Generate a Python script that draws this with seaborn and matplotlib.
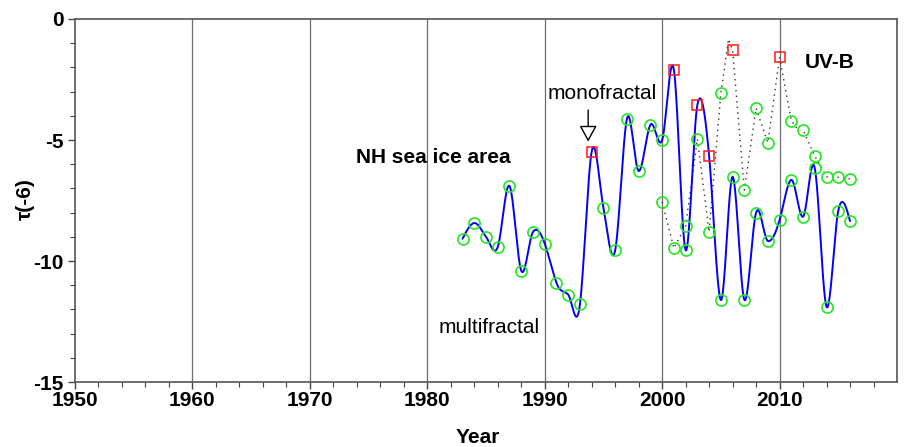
import numpy as np
import pandas as pd
import matplotlib
matplotlib.use("Agg")
import matplotlib.pyplot as plt
import seaborn as sns

# NH sea ice area: annual tau(-6) values
ice_years = list(range(1983, 2017))
ice_tau = [-9.08, -8.43, -9.00, -9.42, -6.90, -10.40, -8.80, -9.28, -10.90, -11.39,
           -11.79, -5.48, -7.80, -9.56, -4.13, -6.28, -4.37, -5.00, -2.10, -9.55,
           -3.55, -5.66, -11.61, -6.52, -11.60, -8.00, -9.17, -8.31, -6.65, -8.17,
           -6.17, -11.89, -7.92, -8.35]
ice_mono_years = [1994, 2001, 2003, 2004]

# UV-B: annual tau(-6) values
uvb_years = list(range(2000, 2017))
uvb_tau = [-7.56, -9.47, -8.55, -4.96, -8.80, -3.07, -1.28, -7.07, -3.69, -5.11,
           -1.58, -4.20, -4.59, -5.66, -6.52, -6.54, -6.61]
uvb_mono_years = [2006, 2010]
# extra vertices of the dotted UV-B trace
uvb_extra_years = [2005.65, 2011.6]
uvb_extra_tau = [-0.83, -4.60]

x_ticks = [1950, 1960, 1970, 1980, 1990, 2000, 2010]
y_ticks = [-15, -10, -5, 0]

BLUE = "#0000ff"
GREEN = "#22e822"
RED = "#ff1a1a"


def cardinal_spline(x, y, scale=0.65, per_seg=40):
    """Hermite curve through every point, tangents from neighbouring points."""
    x = np.asarray(x, float)
    y = np.asarray(y, float)
    n = len(x)
    m = np.zeros(n)
    m[1:-1] = 2 * scale * (y[2:] - y[:-2]) / (x[2:] - x[:-2])
    # free ends: zero curvature at the first and last point
    m[0] = 1.5 * (y[1] - y[0]) / (x[1] - x[0]) - 0.5 * m[1]
    m[-1] = 1.5 * (y[-1] - y[-2]) / (x[-1] - x[-2]) - 0.5 * m[-2]
    xs, ys = [], []
    for i in range(n - 1):
        h = x[i + 1] - x[i]
        t = np.linspace(0, 1, per_seg, endpoint=(i == n - 2))
        h00 = 2 * t ** 3 - 3 * t ** 2 + 1
        h10 = t ** 3 - 2 * t ** 2 + t
        h01 = -2 * t ** 3 + 3 * t ** 2
        h11 = t ** 3 - t ** 2
        xs.append(x[i] + t * h)
        ys.append(h00 * y[i] + h10 * h * m[i] + h01 * y[i + 1] + h11 * h * m[i + 1])
    return np.concatenate(xs), np.concatenate(ys)


sns.set_theme(style="white")
plt.rcParams["font.family"] = ["Liberation Sans", "DejaVu Sans"]
plt.rcParams["axes.unicode_minus"] = False
plt.rcParams["text.color"] = "black"
plt.rcParams["axes.labelcolor"] = "black"
plt.rcParams["xtick.color"] = "black"
plt.rcParams["ytick.color"] = "black"

fig = plt.figure(figsize=(9.09, 4.47), dpi=100)
ax = fig.add_axes([0.0825, 0.1454, 0.9043, 0.8121])

ice = pd.DataFrame({"year": ice_years, "tau": ice_tau})
ice["mono"] = ice["year"].isin(ice_mono_years)
uvb = pd.DataFrame({"year": uvb_years, "tau": uvb_tau})
uvb["mono"] = uvb["year"].isin(uvb_mono_years)
uvb_trace = pd.concat([uvb[["year", "tau"]],
                       pd.DataFrame({"year": uvb_extra_years, "tau": uvb_extra_tau})]
                      ).sort_values("year")

# vertical grid lines at the decades
for xv in x_ticks[1:]:
    ax.axvline(xv, color="#6e6e6e", lw=0.9, zorder=0)

# dotted UV-B trace
sns.lineplot(data=uvb_trace, x="year", y="tau", ax=ax, color="#333333",
             lw=1.0, linestyle=(0, (1, 3)), estimator=None, sort=True, zorder=2)
sns.lineplot(x=uvb_extra_years, y=uvb_extra_tau, ax=ax, color="#222222",
             marker="_", markersize=6, markeredgewidth=1.2, linestyle="",
             estimator=None, zorder=3)

# smooth curve through the sea-ice values
sx, sy = cardinal_spline(ice["year"], ice["tau"])
sns.lineplot(x=sx, y=sy, ax=ax, color=BLUE, lw=1.4, estimator=None,
             sort=False, zorder=3)

marker_kw = dict(linestyle="", markerfacecolor="none", estimator=None, zorder=4)
circ_ice = ice[~ice["mono"]]
circ_uvb = uvb[~uvb["mono"]]
sns.lineplot(data=circ_ice, x="year", y="tau", ax=ax, marker="o", markersize=8,
             markeredgecolor=GREEN, markeredgewidth=1.2, color=GREEN, **marker_kw)
sns.lineplot(data=circ_uvb, x="year", y="tau", ax=ax, marker="o", markersize=8,
             markeredgecolor=GREEN, markeredgewidth=1.2, color=GREEN, **marker_kw)
sq = pd.concat([ice[ice["mono"]], uvb[uvb["mono"]]])
sns.lineplot(data=sq, x="year", y="tau", ax=ax, marker="s", markersize=7,
             markeredgecolor=RED, markeredgewidth=1.1, color=RED, **marker_kw)

# annotations
ax.annotate("", xy=(1993.7, -5.07), xytext=(1993.7, -3.76),
            arrowprops=dict(arrowstyle="-|>,head_length=0.55,head_width=0.3",
                            facecolor="white", edgecolor="black",
                            lw=1.0, mutation_scale=18, shrinkA=0, shrinkB=0))
ax.text(1994.88, -3.06, "monofractal", ha="center", va="center", fontsize=15)
ax.text(1985.25, -12.73, "multifractal", ha="center", va="center", fontsize=15)
ax.text(1980.49, -5.74, "NH sea ice area", ha="center", va="center",
        fontsize=15, fontweight="bold")
ax.text(2014.3, -1.80, "UV-B", ha="center", va="center", fontsize=15,
        fontweight="bold")

ax.set_xlim(1950, 2020)
ax.set_ylim(-15, 0)
ax.set_xticks(x_ticks)
ax.set_xticks(np.arange(1950, 2020, 2), minor=True)
ax.set_yticks(y_ticks)
ax.set_yticks(np.arange(-15, 1, 1), minor=True)
ax.tick_params(axis="both", which="major", direction="out", length=5, width=1.0,
               color="#444444", labelsize=15, bottom=True, left=True)
ax.tick_params(axis="both", which="minor", direction="out", length=3.5, width=0.8,
               color="#444444", bottom=True, left=True)
ax.tick_params(axis="x", which="major", pad=1.5)
ax.tick_params(axis="y", which="major", pad=3)
for lab in ax.get_xticklabels() + ax.get_yticklabels():
    lab.set_fontweight("bold")

for sp in ax.spines.values():
    sp.set_color("#555555")
    sp.set_linewidth(1.2)

ax.set_xlabel("Year", fontsize=15, fontweight="bold")
ax.set_ylabel("τ(-6)", fontsize=15, fontweight="bold")
ax.xaxis.set_label_coords(0.49, -0.152)
ax.xaxis.label.set_verticalalignment("center")
ax.yaxis.set_label_coords(-0.0602, 0.503)
ax.yaxis.label.set_verticalalignment("center")

fig.savefig("out.png", dpi=100)
